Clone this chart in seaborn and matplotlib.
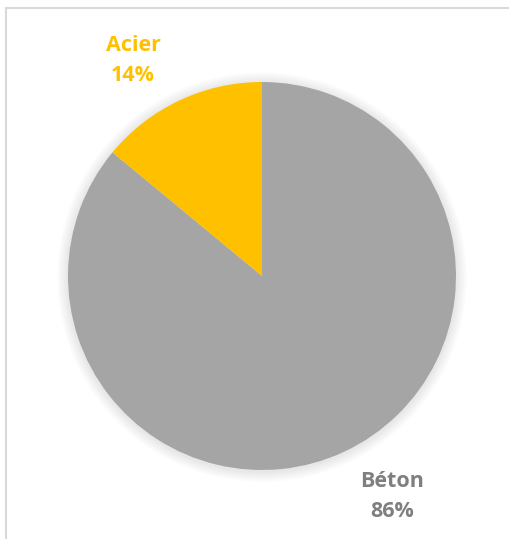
import matplotlib
matplotlib.use("Agg")
import matplotlib.pyplot as plt
import seaborn as sns
from matplotlib.lines import Line2D
from matplotlib.patches import Circle

materials = ["Béton", "Acier"]
shares = [86, 14]
slice_colors = ["#A5A5A5", "#FFC000"]
label_colors = ["#7F7F7F", "#FFC000"]

sns.set_theme(style="white")
plt.rcParams["font.family"] = ["Open Sans", "DejaVu Sans"]

W, H = 509, 539
fig = plt.figure(figsize=(W / 100, H / 100), dpi=100)
fig.patch.set_facecolor("white")

cx, cy, r = 262, 276, 194
ax = fig.add_axes([(cx - r) / W, (H - cy - r) / H, 2 * r / W, 2 * r / H])

# soft shadow under the pie
for i in range(8):
    ax.add_patch(Circle((0.0, -0.006), 1.0 + 0.007 * (i + 1), color="black",
                        alpha=0.012, lw=0, zorder=0, clip_on=False))

wedges, _ = ax.pie(shares, colors=slice_colors, startangle=90, counterclock=False,
                   radius=1.0, wedgeprops=dict(linewidth=0))
for w in wedges:
    w.set_zorder(2)

ax.set_xlim(-1, 1)
ax.set_ylim(-1, 1)
ax.set_aspect("equal")
ax.axis("off")

# (x, name line y, percent line y) in pie units
label_pos = {"Béton": (0.67, -1.06, -1.215), "Acier": (-0.665, 1.19, 1.035)}
for name, val, col in zip(materials, shares, label_colors):
    x, y1, y2 = label_pos[name]
    for txt, y in ((name, y1), (f"{val}%", y2)):
        ax.text(x, y, txt, color=col, ha="center", va="center",
                fontsize=15.5, fontweight="bold", clip_on=False)

# chart frame
frame_col = "#D9D9D9"
fig.add_artist(Line2D([6 / W, 1.0], [1 - 8 / H, 1 - 8 / H], color=frame_col, lw=1.5,
                      transform=fig.transFigure))
fig.add_artist(Line2D([6 / W, 6 / W], [0.0, 1 - 8 / H], color=frame_col, lw=1.5,
                      transform=fig.transFigure))

fig.savefig("out.png", dpi=100, facecolor="white")
